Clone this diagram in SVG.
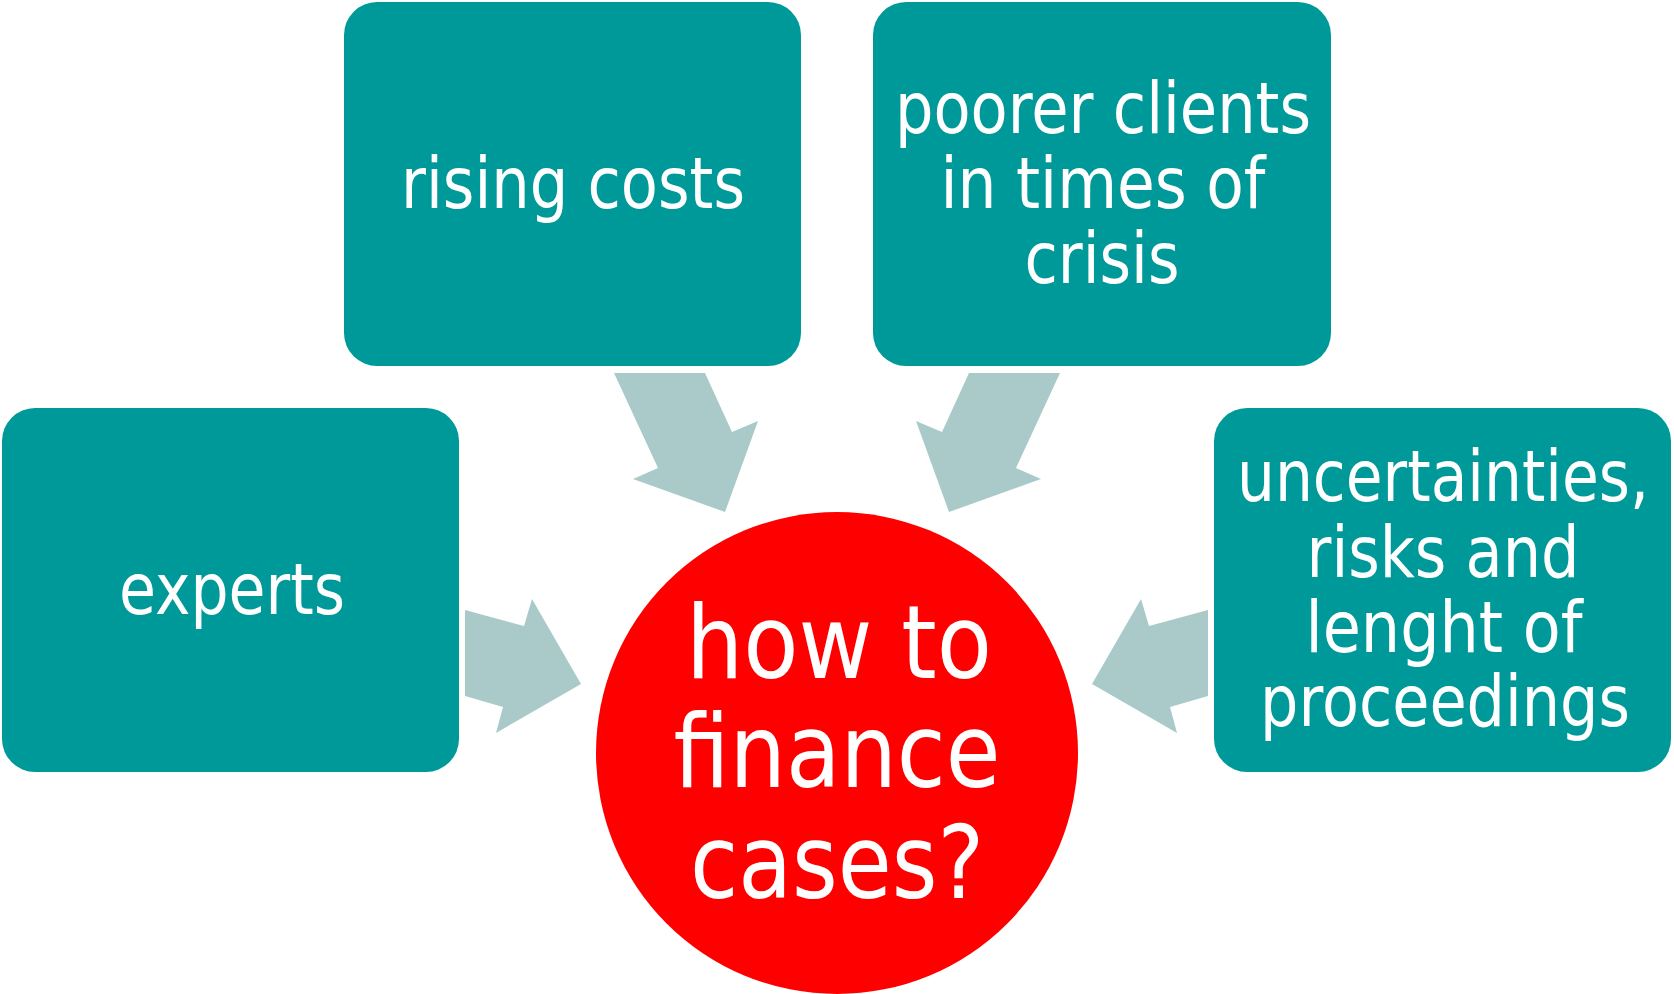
<svg xmlns="http://www.w3.org/2000/svg" width="1674" height="994" viewBox="0 0 1674 994">
  <style>
    .box { fill: #009999; }
    .arrow { fill: #AACACA; }
    .hub { fill: #FF0000; }
    .t { font-family: "DejaVu Sans", Verdana, sans-serif; fill: #FFFFFF; text-anchor: middle; font-size: 71px; }
    .th { font-family: "DejaVu Sans", Verdana, sans-serif; fill: #FFFFFF; text-anchor: middle; font-size: 101px; }
  </style>
  <rect width="1674" height="994" fill="#FFFFFF"/>
  <g id="connectors">
    <polygon class="arrow" points="614,373 705,373 732,432 758,421 725,512 633,479 658,468"/>
    <polygon class="arrow" points="1060,373 969,373 942,432 916,421 949,512 1041,479 1016,468"/>
    <polygon class="arrow" points="465,610 524,626 532,599 581,684 496,733 503,707 465,696"/>
    <polygon class="arrow" points="1208,610 1149,626 1141,599 1092,684 1177,733 1170,707 1208,696"/>
  </g>
  <g id="node-rising-costs">
    <rect class="box" x="344" y="2" width="457" height="364" rx="33" ry="33"/>
    <text class="t" x="573" y="208" textLength="344" lengthAdjust="spacingAndGlyphs">rising costs</text>
  </g>
  <g id="node-poorer-clients">
    <rect class="box" x="873" y="2" width="458" height="364" rx="33" ry="33"/>
    <text class="t" x="1103" y="133" textLength="416" lengthAdjust="spacingAndGlyphs">poorer clients</text>
    <text class="t" x="1103" y="208" textLength="325" lengthAdjust="spacingAndGlyphs">in times of</text>
    <text class="t" x="1102" y="283" textLength="155" lengthAdjust="spacingAndGlyphs">crisis</text>
  </g>
  <g id="node-experts">
    <rect class="box" x="2" y="408" width="457" height="364" rx="33" ry="33"/>
    <text class="t" x="232" y="614" textLength="226" lengthAdjust="spacingAndGlyphs">experts</text>
  </g>
  <g id="node-uncertainties">
    <rect class="box" x="1214" y="408" width="457" height="364" rx="33" ry="33"/>
    <text class="t" x="1443" y="501" textLength="412" lengthAdjust="spacingAndGlyphs">uncertainties,</text>
    <text class="t" x="1443" y="577" textLength="273" lengthAdjust="spacingAndGlyphs">risks and</text>
    <text class="t" x="1444" y="652" textLength="277" lengthAdjust="spacingAndGlyphs">lenght of</text>
    <text class="t" x="1445" y="726" textLength="370" lengthAdjust="spacingAndGlyphs">proceedings</text>
  </g>
  <g id="node-how-to-finance">
    <circle class="hub" cx="837" cy="753" r="241"/>
    <text class="th" x="839" y="678" textLength="306" lengthAdjust="spacingAndGlyphs">how to</text>
    <text class="th" x="837" y="787" textLength="327" lengthAdjust="spacingAndGlyphs">finance</text>
    <text class="th" x="837" y="898" textLength="294" lengthAdjust="spacingAndGlyphs">cases?</text>
  </g>
</svg>
